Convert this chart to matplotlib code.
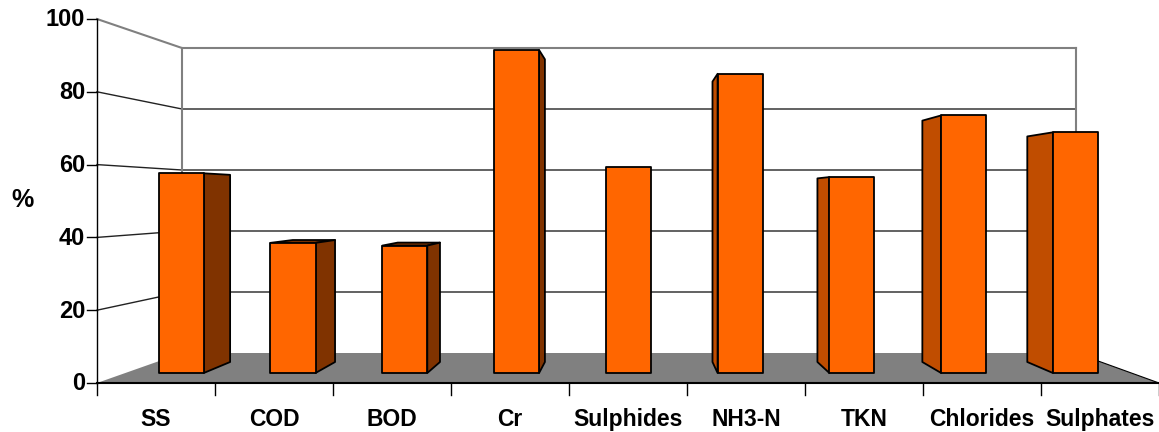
import matplotlib.pyplot as plt
from matplotlib.patches import Polygon

plt.rcParams["font.family"] = ["Liberation Sans", "DejaVu Sans"]
plt.rcParams["font.weight"] = "bold"

categories = ["SS", "COD", "BOD", "Cr", "Sulphides", "NH3-N", "TKN", "Chlorides", "Sulphates"]
values = [58.0, 37.8, 37.0, 93.8, 59.9, 86.9, 56.9, 74.8, 69.9]
y_ticks = [0, 20, 40, 60, 80, 100]

# pixel frame of the fake 3d box
FRONT_LEFT, FRONT_RIGHT = 97, 1159
BACK_LEFT, BACK_RIGHT = 182, 1076
FRONT_BOTTOM, FRONT_TOP = 383, 19
BACK_BOTTOM, BACK_TOP = 353, 48

BAR_FRONT = 1 / 3  # depth of the bar faces, 0 = front of the box, 1 = back wall
BAR_BACK = 0.7
BAR_SHARE = 0.403

ORANGE = "#FF6600"
RIGHT_SIDE = "#803300"
LEFT_SIDE = "#C04D00"
FLOOR = "#808080"


def project(slot, value, depth):
    # slot runs 0..n along the categories, value 0..100 up the axis
    left = FRONT_LEFT + (BACK_LEFT - FRONT_LEFT) * depth
    right = FRONT_RIGHT + (BACK_RIGHT - FRONT_RIGHT) * depth
    bottom = FRONT_BOTTOM + (BACK_BOTTOM - FRONT_BOTTOM) * depth
    top = FRONT_TOP + (BACK_TOP - FRONT_TOP) * depth
    x = left + (right - left) * slot / len(categories)
    y = bottom - (bottom - top) * value / 100
    return x, y


def draw_bar(ax, i, value):
    s0 = i + 0.5 - BAR_SHARE / 2
    s1 = i + 0.5 + BAR_SHARE / 2
    d0, d1 = BAR_FRONT, BAR_BACK
    edge = dict(edgecolor="black", linewidth=1.3, joinstyle="round")

    # top face, only seen when the far edge sits higher than the near one
    if project(s0, value, d1)[1] < project(s0, value, d0)[1]:
        top = [project(s0, value, d0), project(s1, value, d0),
               project(s1, value, d1), project(s0, value, d1)]
        ax.add_patch(Polygon(top, facecolor=RIGHT_SIDE, zorder=3, **edge))

    # side face, right side on the left half of the chart and the other way round
    if project(s1, 0, d1)[0] > project(s1, 0, d0)[0]:
        side = [project(s1, 0, d0), project(s1, value, d0),
                project(s1, value, d1), project(s1, 0, d1)]
        ax.add_patch(Polygon(side, facecolor=RIGHT_SIDE, zorder=3, **edge))
    if project(s0, 0, d1)[0] < project(s0, 0, d0)[0]:
        side = [project(s0, 0, d0), project(s0, value, d0),
                project(s0, value, d1), project(s0, 0, d1)]
        ax.add_patch(Polygon(side, facecolor=LEFT_SIDE, zorder=3, **edge))

    front = [project(s0, 0, d0), project(s1, 0, d0),
             project(s1, value, d0), project(s0, value, d0)]
    ax.add_patch(Polygon(front, facecolor=ORANGE, zorder=4, **edge))


fig = plt.figure(figsize=(11.59, 4.32), dpi=100)
ax = fig.add_axes([0, 0, 1, 1])
ax.set_xlim(0, 1159)
ax.set_ylim(432, 0)
ax.axis("off")

n = len(categories)

# walls and gridlines
for t in y_ticks[1:]:
    color = "#808080" if t == 100 else "#222222"
    lw = 1.5 if t == 100 else 1.0
    x0, y0 = project(0, t, 0)
    x1, y1 = project(0, t, 1)
    x2, y2 = project(n, t, 1)
    ax.plot([x0, x1, x2], [y0, y1, y2], color=color, lw=lw, zorder=1)
for slot in [0, n]:
    xs, ys = zip(project(slot, 0, 1), project(slot, 100, 1))
    ax.plot(xs, ys, color="#808080", lw=1.5, zorder=1)

# floor
floor = [project(0, 0, 0), project(n, 0, 0), project(n, 0, 1), project(0, 0, 1)]
ax.add_patch(Polygon(floor, facecolor=FLOOR, edgecolor="none", zorder=2))
xs, ys = zip(project(n, 0, 1), project(n, 0, 0))
ax.plot(xs, ys, color="black", lw=0.8, zorder=2)

for i, v in enumerate(values):
    draw_bar(ax, i, v)

# front axes
ax.plot([FRONT_LEFT, FRONT_LEFT], [FRONT_TOP, FRONT_BOTTOM], color="black", lw=1.0, zorder=5)
ax.plot([FRONT_LEFT, FRONT_RIGHT], [FRONT_BOTTOM, FRONT_BOTTOM], color="black", lw=1.5, zorder=5)

for t in y_ticks:
    x, y = project(0, t, 0)
    ax.plot([x - 10, x], [y, y], color="black", lw=1.0, zorder=5)
    ax.text(x - 12, y + 1, str(t), ha="right", va="center", fontsize=17)

for slot in range(n + 1):
    x, y = project(slot, 0, 0)
    ax.plot([x, x], [y, y + 12], color="black", lw=1.0, zorder=5)

for i, name in enumerate(categories):
    x, y = project(i + 0.5, 0, 0)
    ax.text(x, 426, name, ha="center", va="baseline", fontsize=16.5)

ax.text(22, 200, "%", ha="center", va="center", fontsize=18)

fig.savefig("out.png", dpi=100)
